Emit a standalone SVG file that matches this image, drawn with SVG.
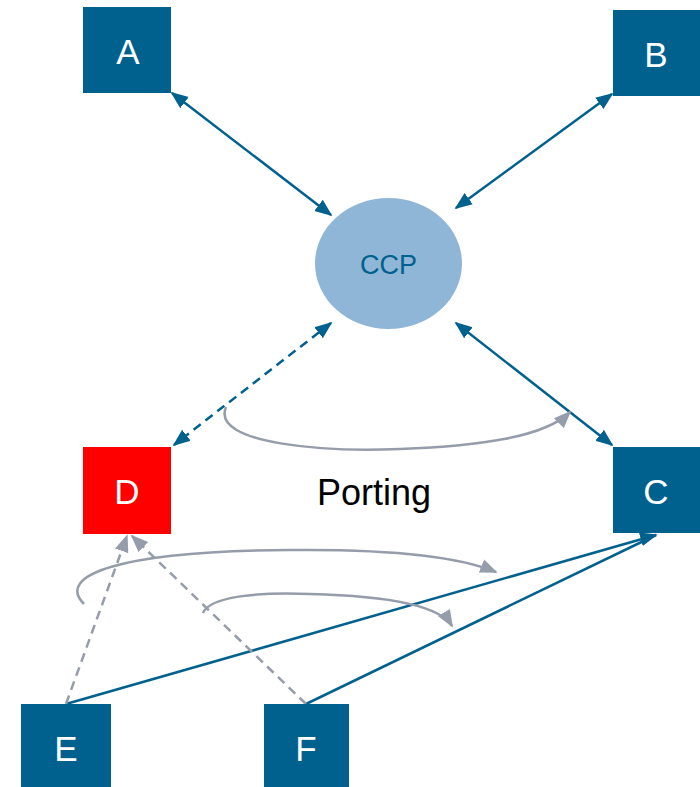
<svg xmlns="http://www.w3.org/2000/svg" width="700" height="787" viewBox="0 0 700 787">
  <style>
    .box { fill: #00618E; }
    .lbl { font-family: "Liberation Sans", Arial, sans-serif; font-size: 35px; fill: #ffffff; text-anchor: middle; }
    .link { stroke: #00618E; stroke-width: 2.5; fill: none; }
    .dash { stroke-dasharray: 9 6; }
    .gray { stroke: #959CAA; stroke-width: 2.5; fill: none; }
  </style>
  <defs>
    <marker id="ab" viewBox="0 0 10 10" refX="9" refY="5" markerWidth="7" markerHeight="7" orient="auto-start-reverse" markerUnits="strokeWidth">
      <path d="M0,1 L10,5 L0,9 z" fill="#00618E"/>
    </marker>
    <marker id="ag" viewBox="0 0 10 10" refX="9" refY="5" markerWidth="7" markerHeight="7" orient="auto-start-reverse" markerUnits="strokeWidth">
      <path d="M0,1 L10,5 L0,9 z" fill="#959CAA"/>
    </marker>
  </defs>

  <g id="connectors">
    <line class="link" x1="172" y1="93" x2="331" y2="215" marker-start="url(#ab)" marker-end="url(#ab)"/>
    <line class="link" x1="612" y1="94" x2="456" y2="208" marker-start="url(#ab)" marker-end="url(#ab)"/>
    <line class="link" x1="456" y1="323" x2="612" y2="445" marker-start="url(#ab)" marker-end="url(#ab)"/>
    <line class="link dash" x1="331" y1="323" x2="174" y2="445" marker-start="url(#ab)" marker-end="url(#ab)"/>
    <path class="gray" d="M226,407 C210,445 330,452 400,449 C480,446 545,437 570,412" marker-end="url(#ag)"/>
    <line class="link" x1="66" y1="704" x2="656" y2="535" marker-end="url(#ab)"/>
    <line class="link" x1="306" y1="704" x2="656" y2="535"/>
    <line class="gray dash" x1="66" y1="704" x2="127" y2="536" marker-end="url(#ag)"/>
    <line class="gray dash" x1="306" y1="704" x2="132" y2="536" marker-end="url(#ag)"/>
    <path class="gray" d="M84,604 C55,575 120,551 290,550 C390,549 460,557 496,572" marker-end="url(#ag)"/>
    <path class="gray" d="M203,613 C210,596 260,592 310,594 C390,596 440,606 452,626" marker-end="url(#ag)"/>
  </g>

  <g id="node-A">
    <rect class="box" x="83" y="7" width="88" height="86"/>
    <text class="lbl" x="128" y="64">A</text>
  </g>
  <g id="node-B">
    <rect class="box" x="613" y="10" width="87" height="86"/>
    <text class="lbl" x="656" y="67">B</text>
  </g>
  <g id="node-CCP">
    <ellipse cx="388.5" cy="263.5" rx="73.5" ry="65.5" fill="#8FB6D7"/>
    <text x="388.5" y="274" font-family="Liberation Sans, Arial, sans-serif" font-size="27" fill="#00618E" text-anchor="middle">CCP</text>
  </g>
  <g id="node-D">
    <rect x="83" y="447" width="88" height="87" fill="#FF0000"/>
    <text class="lbl" x="127" y="504">D</text>
  </g>
  <g id="node-C">
    <rect class="box" x="613" y="447" width="87" height="86"/>
    <text class="lbl" x="656" y="504">C</text>
  </g>
  <g id="node-E">
    <rect class="box" x="21" y="704" width="90" height="83"/>
    <text class="lbl" x="66" y="761">E</text>
  </g>
  <g id="node-F">
    <rect class="box" x="264" y="704" width="85" height="83"/>
    <text class="lbl" x="306" y="761">F</text>
  </g>

  <text x="374" y="505" font-family="Liberation Sans, Arial, sans-serif" font-size="36" fill="#000000" text-anchor="middle">Porting</text>
</svg>
